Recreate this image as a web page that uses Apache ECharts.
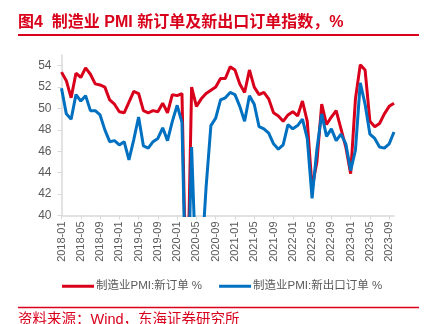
<!DOCTYPE html>
<html>
<head>
<meta charset="utf-8">
<script src="https://cdn.jsdelivr.net/npm/echarts@6/dist/echarts.min.js"></script>
<style>
html,body{margin:0;padding:0;background:#fff;}
#main{width:434px;height:324px;}
</style>
</head>
<body>
<div id="main"></div>
<script>
// Month labels on the axis (data are month-end values, Dec 2017 – Sep 2023,
// plotted at the following month's start as in the reference)
const categories = [];
for (let y = 2018; y <= 2023; y++) {
  for (let m = 1; m <= 12; m++) {
    if (y === 2023 && m > 10) break;
    categories.push(y + '-' + (m < 10 ? '0' + m : m));
  }
}

// 制造业PMI:新订单 (Dec 2017 … Sep 2023)
const newOrders = [
  53.4,
  52.6, 51.0, 53.3, 52.9, 53.8, 53.2, 52.3, 52.2, 52.0, 50.8, 50.4, 49.7,
  49.6, 50.6, 51.6, 51.4, 49.8, 49.6, 49.8, 49.7, 50.5, 49.6, 51.3, 51.2,
  51.4, 29.3, 52.0, 50.2, 50.9, 51.4, 51.7, 52.0, 52.8, 52.8, 53.9, 53.6,
  52.3, 51.5, 53.6, 52.0, 51.3, 51.5, 50.9, 49.6, 49.3, 48.8, 49.4, 49.7,
  49.3, 50.7, 48.8, 42.6, 45.0, 50.4, 48.5, 49.2, 49.8, 48.1, 46.4, 43.9,
  50.9, 54.1, 53.6, 48.8, 48.3, 48.6, 49.5, 50.2, 50.5
];

// 制造业PMI:新出口订单 (Dec 2017 … Sep 2023)
const newExportOrders = [
  51.9,
  49.5, 49.0, 51.3, 50.7, 51.2, 49.8, 49.8, 49.4, 48.0, 46.9, 47.0, 46.6,
  46.9, 45.2, 47.1, 49.2, 46.5, 46.3, 46.9, 47.2, 48.2, 47.0, 48.8, 50.3,
  48.7, 28.7, 46.4, 33.5, 35.3, 42.6, 48.4, 49.1, 50.8, 51.0, 51.5, 51.3,
  50.2, 48.8, 51.2, 50.4, 48.3, 48.1, 47.7, 46.7, 46.2, 46.6, 48.5, 48.1,
  48.4, 49.0, 47.2, 41.6, 46.2, 49.5, 47.4, 48.1, 47.0, 47.6, 46.7, 44.2,
  46.1, 52.4, 50.4, 47.6, 47.2, 46.4, 46.3, 46.7, 47.8
];

const yTicks = [40, 42, 44, 46, 48, 50, 52, 54];

const RED = '#d9001b';
const BLUE = '#0070c0';
const FONT = '"Liberation Sans", Arial, "Noto Sans CJK SC", sans-serif';

const chart = echarts.init(document.getElementById('main'), null, {renderer: 'canvas'});
chart.setOption({
  animation: false,
  backgroundColor: '#ffffff',
  textStyle: {fontFamily: FONT},
  title: {
    text: '图4  制造业 PMI 新订单及新出口订单指数，%',
    left: 18,
    top: 15,
    padding: 0,
    textStyle: {color: RED, fontSize: 16, fontWeight: 'bold', fontFamily: FONT}
  },
  graphic: [
    {type: 'line', shape: {x1: 18, y1: 35, x2: 419, y2: 35}, style: {stroke: RED, lineWidth: 2}},
    {type: 'line', shape: {x1: 18, y1: 307.5, x2: 419, y2: 307.5}, style: {stroke: RED, lineWidth: 1.5}},
    {type: 'text', left: 18, top: 313, style: {text: '资料来源：Wind，东海证券研究所', fill: RED, font: '14.5px ' + FONT}}
  ],
  legend: {
    left: 62,
    top: 280.5,
    padding: 0,
    itemWidth: 32,
    itemHeight: 3,
    itemGap: 17,
    icon: 'rect',
    textStyle: {color: '#595959', fontSize: 11.5, fontFamily: FONT, padding: [0, 0, 0, -3]},
    data: ['制造业PMI:新订单 %', '制造业PMI:新出口订单 %']
  },
  grid: {left: 61.5, right: 40, top: 55, bottom: 108.5, containLabel: false},
  xAxis: {
    type: 'category',
    data: categories,
    boundaryGap: false,
    axisLine: {lineStyle: {color: '#d9d9d9', width: 1.5}},
    axisTick: {interval: 3, length: 4, lineStyle: {color: '#d9d9d9'}},
    axisLabel: {interval: 3, rotate: 90, color: '#595959', fontSize: 11, margin: 6, fontFamily: FONT},
    splitLine: {show: false}
  },
  yAxis: {
    type: 'value',
    min: 40,
    max: 55,
    axisLine: {show: true, lineStyle: {color: '#d9d9d9', width: 1.5}},
    axisTick: {show: true, length: 4, lineStyle: {color: '#d9d9d9'}, customValues: yTicks},
    axisLabel: {color: '#595959', fontSize: 12, margin: 10, fontFamily: FONT, customValues: yTicks},
    splitLine: {show: false}
  },
  series: [
    {
      name: '制造业PMI:新订单 %',
      type: 'line',
      data: newOrders,
      showSymbol: false,
      symbol: 'none',
      clip: true,
      lineStyle: {color: RED, width: 3},
      itemStyle: {color: RED}
    },
    {
      name: '制造业PMI:新出口订单 %',
      type: 'line',
      data: newExportOrders,
      showSymbol: false,
      symbol: 'none',
      clip: true,
      lineStyle: {color: BLUE, width: 3},
      itemStyle: {color: BLUE}
    }
  ]
});
</script>
</body>
</html>
